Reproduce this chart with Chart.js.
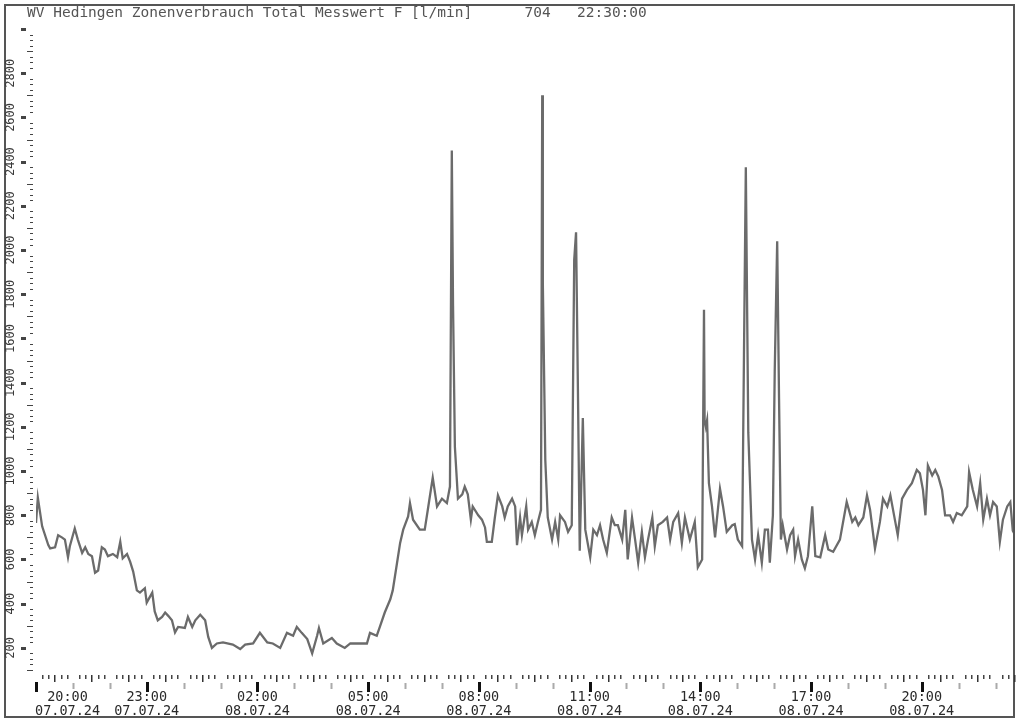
<!DOCTYPE html>
<html lang="de">
  <head>
    <meta charset="UTF-8" />
    <title>WV Hedingen Zonenverbrauch</title>
    <script src="https://cdn.jsdelivr.net/npm/chart.js"></script>
    <style>
      body {
        margin: 0;
        background: #fff;
      }
      .wrap {
        position: relative;
        width: 1024px;
        height: 726px;
      }
    </style>
  </head>
  <body>
    <div class="wrap">
      <canvas id="flowChart"></canvas>
    </div>

    <script>
      // minutes after 07.07.24 20:00, flow in l/min
      const minutes = [
        0, 3, 10, 20, 23, 31, 36, 42, 47, 52, 55, 63, 68, 75, 80, 85, 91, 96, 101, 107,
        112, 117, 125, 132, 137, 141, 148, 153, 158, 164, 169, 177, 180, 189, 193, 198, 205, 210, 215, 221,
        226, 231, 242, 247, 254, 259, 267, 275, 280, 286, 294, 304, 320, 332, 340, 353, 364, 376, 385, 397,
        408, 418, 424, 432, 441, 449, 457, 460, 467, 481, 489, 502, 511, 527, 538, 543, 554, 559, 567, 576,
        580, 587, 592, 597, 605, 608, 613, 624, 632, 637, 645, 652, 660, 668, 673, 676, 678, 681, 686, 693,
        697, 702, 707, 710, 719, 725, 730, 733, 741, 746, 751, 758, 762, 767, 774, 779, 782, 787, 790, 797,
        800, 806, 811, 816, 821, 823, 824, 828, 832, 839, 844, 849, 852, 860, 865, 871, 875, 878, 881, 884,
        889, 893, 901, 906, 912, 917, 922, 928, 936, 941, 946, 953, 958, 962, 969, 974, 979, 985, 990, 995,
        1002, 1006, 1011, 1019, 1026, 1031, 1036, 1044, 1050, 1055, 1063, 1071, 1076, 1083, 1086, 1087, 1089, 1091, 1094, 1099,
        1104, 1112, 1117, 1123, 1132, 1136, 1141, 1148, 1151, 1154, 1158, 1164, 1169, 1174, 1180, 1185, 1190, 1193, 1198, 1201,
        1205, 1208, 1211, 1214, 1221, 1226, 1231, 1234, 1239, 1245, 1250, 1255, 1262, 1267, 1275, 1283, 1288, 1296, 1307, 1318,
        1327, 1332, 1337, 1345, 1351, 1356, 1364, 1372, 1377, 1384, 1389, 1397, 1401, 1408, 1416, 1424, 1432, 1437, 1442, 1446,
        1450, 1457, 1462, 1467, 1473, 1478, 1486, 1491, 1497, 1505, 1514, 1517, 1523, 1530, 1535, 1540, 1546, 1551, 1556, 1562,
        1567, 1572, 1579, 1584, 1588, 1590
      ];
      const flow = [
        765, 880, 750, 665, 650, 655, 710, 700, 690, 610, 660, 740, 690, 630, 655, 625, 615, 540, 550, 655,
        645, 615, 625, 610, 680, 605, 625, 590, 545, 460, 450, 470, 405, 450, 365, 325, 340, 360, 345, 325,
        270, 295, 290, 340, 295, 325, 350, 325, 250, 200, 220, 225, 215, 195, 215, 220, 268, 225, 220, 200,
        268, 255, 295, 268, 240, 175, 255, 290, 220, 245, 220, 200, 220, 220, 220, 268, 255, 295, 360, 420,
        460, 585, 675, 735, 795, 855, 780, 735, 735, 825, 970, 840, 875, 855, 930, 2450, 1750, 1110, 875, 895,
        930, 895, 780, 840, 800, 780, 745, 680, 680, 790, 890, 840, 790, 840, 875, 840, 665, 790, 710, 840,
        735, 770, 710, 770, 825, 2700, 1850, 1050, 790, 690, 770, 690, 800, 770, 725, 755, 1955, 2080, 1375, 640,
        1240, 735, 610, 735, 710, 755, 690, 630, 790, 755, 755, 690, 825, 600, 790, 690, 585, 725, 610, 690,
        790, 660, 755, 770, 790, 690, 770, 810, 675, 790, 690, 770, 565, 600, 1730, 1230, 1200, 1230, 945, 840,
        700, 920, 840, 725, 755, 760, 690, 660, 1525, 2375, 1175, 690, 600, 710, 585, 735, 735, 585, 800, 1450,
        2040, 1330, 690, 755, 645, 710, 735, 615, 690, 600, 560, 615, 840, 615, 610, 710, 645, 635, 690, 860,
        770, 790, 755, 790, 890, 825, 650, 770, 875, 840, 890, 770, 710, 875, 915, 945, 1005, 990, 915, 800,
        1025, 980, 1005, 975, 915, 800, 800, 770, 810, 800, 840, 995, 915, 840, 945, 780, 875, 800, 860, 840,
        680, 780, 840, 860, 730, 720
      ];

      const yTickValues = [200, 400, 600, 800, 1000, 1200, 1400, 1600, 1800, 2000, 2200, 2400, 2600, 2800];
      const xLabelMinutes = [0, 180, 360, 540, 720, 900, 1080, 1260, 1440];
      const xTimeLabels = ["20:00", "23:00", "02:00", "05:00", "08:00", "11:00", "14:00", "17:00", "20:00"];
      const xDateLabels = ["07.07.24", "07.07.24", "08.07.24", "08.07.24", "08.07.24", "08.07.24", "08.07.24", "08.07.24", "08.07.24"];
      const headerText = "WV Hedingen Zonenverbrauch Total Messwert F [l/min]      704   22:30:00";

      const monoFont = '"DejaVu Sans Mono", "Liberation Mono", monospace';

      // frame, axis ticks and labels drawn from the chart's own scales
      const decorPlugin = {
        id: "decor",
        afterDraw(chart) {
          const ctx = chart.ctx;
          const xs = chart.scales.x;
          const ys = chart.scales.y;
          ctx.save();

          // outer frame
          ctx.strokeStyle = "#555";
          ctx.lineWidth = 2;
          ctx.strokeRect(5, 5, 1009, 712);

          // header
          ctx.fillStyle = "#555";
          ctx.font = "14.5px " + monoFont;
          ctx.textBaseline = "middle";
          ctx.textAlign = "left";
          ctx.fillText(headerText, 27, 13);

          // y ticks every 25
          for (let v = ys.min; v <= ys.max; v += 25) {
            const py = Math.round(ys.getPixelForValue(v)) + 0.5;
            ctx.fillStyle = "#444";
            if (v % 200 === 0) {
              ctx.fillRect(21, py - 1.5, 5, 3);
            } else if (v % 100 === 0) {
              ctx.fillRect(27, py - 0.5, 6, 1);
            } else {
              ctx.fillRect(30, py - 0.5, 3, 1);
            }
          }

          // y labels, rotated
          ctx.font = "12px " + monoFont;
          ctx.fillStyle = "#3a3a3a";
          ctx.textAlign = "center";
          ctx.textBaseline = "middle";
          yTickValues.forEach((v) => {
            const py = ys.getPixelForValue(v);
            ctx.save();
            ctx.translate(11, py);
            ctx.rotate(-Math.PI / 2);
            ctx.fillText(String(v), 0, 0);
            ctx.restore();
          });

          // x ticks every 10 minutes
          for (let m = xs.min; m <= xs.max; m += 10) {
            const px = Math.round(xs.getPixelForValue(m)) + 0.5;
            if (m % 180 === 0) {
              ctx.fillStyle = "#111";
              ctx.fillRect(px - 1.5, 682, 3, 10);
            } else if (m % 60 === 0) {
              ctx.fillStyle = "#aaa";
              ctx.fillRect(px - 1, 683, 2, 6);
            } else if (m % 30 === 0) {
              ctx.fillStyle = "#333";
              ctx.fillRect(px - 0.5, 675, 1.5, 7);
            } else {
              ctx.fillStyle = "#444";
              ctx.fillRect(px - 0.5, 675, 1.5, 4);
            }
          }

          // x labels
          ctx.font = "13.5px " + monoFont;
          ctx.fillStyle = "#2a2a2a";
          ctx.textAlign = "center";
          xLabelMinutes.forEach((m, i) => {
            const px = xs.getPixelForValue(m);
            const w = ctx.measureText(xDateLabels[i]).width;
            const cx = Math.max(px, 35 + w / 2);
            ctx.fillText(xTimeLabels[i], cx, 697);
            ctx.fillText(xDateLabels[i], cx, 711);
          });

          ctx.restore();
        },
      };

      new Chart(document.getElementById("flowChart").getContext("2d"), {
        type: "line",
        data: {
          datasets: [
            {
              data: minutes.map((m, i) => ({ x: m, y: flow[i] })),
              borderColor: "#6b6b6b",
              borderWidth: 2.3,
              pointRadius: 0,
              tension: 0,
              fill: false,
            },
          ],
        },
        options: {
          responsive: true,
          maintainAspectRatio: false,
          animation: false,
          layout: { padding: { left: 36, right: 10, top: 29, bottom: 56 } },
          plugins: {
            legend: { display: false },
            tooltip: { enabled: false },
          },
          scales: {
            x: { type: "linear", min: 0, max: 1590, display: false },
            y: { min: 100, max: 3000, display: false },
          },
        },
        plugins: [decorPlugin],
      });
    </script>
  </body>
</html>
